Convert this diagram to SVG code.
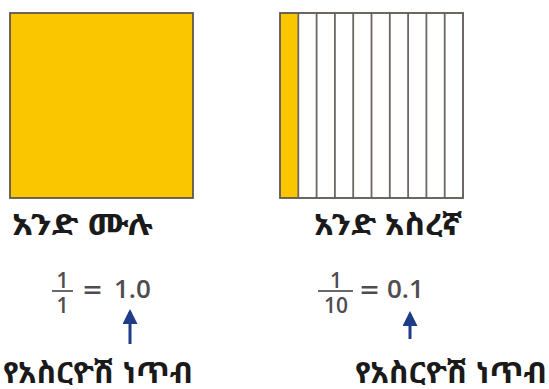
<svg xmlns="http://www.w3.org/2000/svg" width="549" height="389" viewBox="0 0 549 389">
<style>
.yel{fill:#f9c600}
.box{fill:none;stroke:#5e5752;stroke-width:1.8}
.div{stroke:#6e6664;stroke-width:1.8}
.eth{font-family:"Noto Sans Ethiopic","Abyssinica SIL","Noto Serif Ethiopic","DejaVu Sans",sans-serif;fill:#1a1a1a;font-weight:bold}
.num{font-family:"Open Sans","Liberation Sans",sans-serif;fill:#4f4c52;font-weight:600}
.arr{stroke:#1f3c88;stroke-width:3;fill:none}
</style>
<defs>
<marker id="ah" viewBox="0 0 10 10" refX="8" refY="5" markerWidth="16" markerHeight="15" orient="auto" markerUnits="userSpaceOnUse">
<path d="M0,0 L10,5 L0,10 Z" fill="#1f3c88"/>
</marker>
</defs>
<rect width="549" height="389" fill="#fff"/>
<g id="whole">
<rect x="10" y="13" width="183" height="185" class="yel"/>
<rect x="10" y="13" width="183" height="185" class="box"/>
</g>
<g id="tenth">
<rect x="280" y="13" width="18.3" height="185" class="yel"/>
<g class="div">
<line x1="298.3" y1="13" x2="298.3" y2="198"/>
<line x1="316.6" y1="13" x2="316.6" y2="198"/>
<line x1="334.9" y1="13" x2="334.9" y2="198"/>
<line x1="353.2" y1="13" x2="353.2" y2="198"/>
<line x1="371.5" y1="13" x2="371.5" y2="198"/>
<line x1="389.8" y1="13" x2="389.8" y2="198"/>
<line x1="408.1" y1="13" x2="408.1" y2="198"/>
<line x1="426.4" y1="13" x2="426.4" y2="198"/>
<line x1="444.7" y1="13" x2="444.7" y2="198"/>
</g>
<rect x="280" y="13" width="183" height="185" class="box"/>
</g>
<g id="label-whole">
<text x="12" y="235" class="eth" font-size="30" textLength="141" lengthAdjust="spacingAndGlyphs">አንድ ሙሉ</text>
</g>
<g id="label-tenth">
<text x="314" y="235" class="eth" font-size="30" textLength="148" lengthAdjust="spacingAndGlyphs">አንድ አስረኛ</text>
</g>
<g id="eq-whole">
<text x="62.5" y="288" class="num" font-size="21" text-anchor="middle">1</text>
<line x1="52" y1="291" x2="73" y2="291" stroke="#6b6868" stroke-width="2"/>
<text x="62.5" y="313" class="num" font-size="21" text-anchor="middle">1</text>
<text x="83" y="300" class="num" font-size="28" textLength="19" lengthAdjust="spacingAndGlyphs">=</text>
<text x="114" y="298" class="num" font-size="26">1.0</text>
</g>
<g id="eq-tenth">
<text x="336" y="288" class="num" font-size="21" text-anchor="middle">1</text>
<line x1="318" y1="291" x2="353" y2="291" stroke="#6b6868" stroke-width="2"/>
<text x="336" y="313" class="num" font-size="21" text-anchor="middle">10</text>
<text x="360" y="300" class="num" font-size="28" textLength="19" lengthAdjust="spacingAndGlyphs">=</text>
<text x="387" y="298" class="num" font-size="26">0.1</text>
</g>
<g id="connectors">
<line x1="130" y1="344" x2="130" y2="312" class="arr" marker-end="url(#ah)"/>
<line x1="410" y1="339" x2="410" y2="314" class="arr" marker-end="url(#ah)"/>
</g>
<g id="label-point-1">
<text x="3" y="383" class="eth" font-size="30" textLength="190" lengthAdjust="spacingAndGlyphs">የአስርዮሽ ነጥብ</text>
</g>
<g id="label-point-2">
<text x="355" y="383" class="eth" font-size="30" textLength="192" lengthAdjust="spacingAndGlyphs">የአስርዮሽ ነጥብ</text>
</g>
</svg>
